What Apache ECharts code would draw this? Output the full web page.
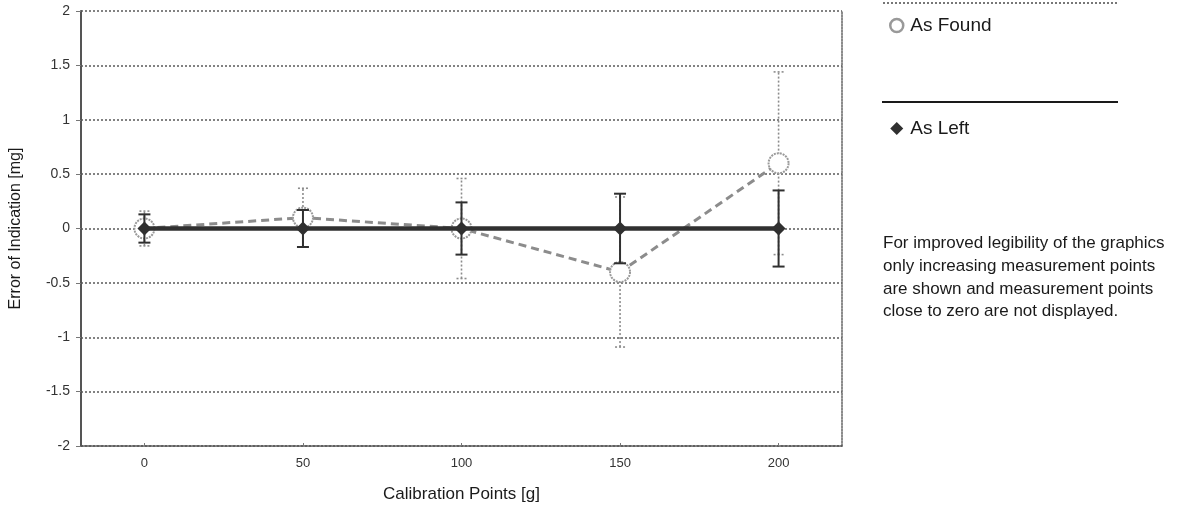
<!DOCTYPE html>
<html>
<head>
<meta charset="utf-8">
<script src="https://cdn.jsdelivr.net/npm/echarts@6/dist/echarts.min.js"></script>
<style>
html,body{margin:0;padding:0;background:#fff;}
#chart{width:1179px;height:508px;}
</style>
</head>
<body>
<div id="chart"></div>
<script>
const calibrationPoints = [0, 50, 100, 150, 200];
const asFound = [0, 0.1, 0, -0.4, 0.6];
const asFoundUncertainty = [0.16, 0.27, 0.46, 0.69, 0.84];
const asLeft = [0, 0, 0, 0, 0];
const asLeftUncertainty = [0.13, 0.17, 0.24, 0.32, 0.35];
const xTickValues = [0, 50, 100, 150, 200];
const noteLines = [
  'For improved legibility of the graphics',
  'only increasing measurement points',
  'are shown and measurement points',
  'close to zero are not displayed.'
];

const FONT = '"Liberation Sans", Arial, sans-serif';
const GRAY = '#8c8c8c';
const DARK = '#303030';

function pairs(xs, ys) { return xs.map((x, i) => [x, ys[i]]); }
function bars(xs, ys, us) { return xs.map((x, i) => [x, ys[i] - us[i], ys[i] + us[i]]); }

function errorBarRenderer(color, width, dash, cap) {
  return function (params, api) {
    const x = api.value(0);
    const lo = api.coord([x, api.value(1)]);
    const hi = api.coord([x, api.value(2)]);
    const style = { stroke: color, lineWidth: width, lineDash: dash, fill: null };
    return {
      type: 'group',
      children: [
        { type: 'line', shape: { x1: lo[0], y1: lo[1], x2: hi[0], y2: hi[1] }, style: style },
        { type: 'line', shape: { x1: lo[0] - cap, y1: lo[1], x2: lo[0] + cap, y2: lo[1] }, style: style },
        { type: 'line', shape: { x1: hi[0] - cap, y1: hi[1], x2: hi[0] + cap, y2: hi[1] }, style: style }
      ]
    };
  };
}

const chart = echarts.init(document.getElementById('chart'), null, { renderer: 'canvas' });

const graphics = [
  { type: 'line', shape: { x1: 883, y1: 3, x2: 1117, y2: 3 }, style: { stroke: '#777', lineWidth: 2, lineDash: [2, 2] } },
  { type: 'line', shape: { x1: 882, y1: 102, x2: 1118, y2: 102 }, style: { stroke: '#1a1a1a', lineWidth: 2 } }
];
noteLines.forEach((t, i) => {
  graphics.push({
    type: 'text', left: 883, top: 235 + i * 22.7,
    style: { text: t, fontFamily: FONT, fontSize: 17, fill: '#1a1a1a' }
  });
});

chart.setOption({
  animation: false,
  backgroundColor: '#ffffff',
  grid: { left: 81, right: 337, top: 11, bottom: 62, containLabel: false },
  legend: {
    orient: 'vertical',
    left: 884,
    top: 11,
    itemGap: 84,
    itemWidth: 13,
    itemHeight: 13,
    selectedMode: false,
    textStyle: { fontFamily: FONT, fontSize: 19, color: '#1a1a1a', padding: [3, 0, 0, 2] },
    data: [
      { name: 'As Found', icon: 'circle', itemStyle: { color: '#ffffff', borderColor: '#999999', borderWidth: 2.5 } },
      { name: 'As Left', icon: 'diamond', itemStyle: { color: DARK } }
    ]
  },
  xAxis: {
    type: 'value',
    min: -20,
    max: 220,
    name: 'Calibration Points [g]',
    nameLocation: 'middle',
    nameGap: 40,
    nameTextStyle: { fontFamily: FONT, fontSize: 17, color: '#1a1a1a' },
    axisLine: { show: true, onZero: false, lineStyle: { color: '#555', width: 1.5, type: [2, 1] } },
    axisTick: { show: true, customValues: xTickValues, length: 3, inside: true, lineStyle: { color: '#777' } },
    axisLabel: { customValues: xTickValues, fontFamily: FONT, fontSize: 13, color: '#333', margin: 11 },
    splitLine: { show: false }
  },
  yAxis: [{
    type: 'value',
    min: -2,
    max: 2,
    interval: 0.5,
    name: 'Error of Indication [mg]',
    nameLocation: 'middle',
    nameGap: 57,
    nameTextStyle: { fontFamily: FONT, fontSize: 16, color: '#1a1a1a' },
    axisLine: { show: true, onZero: false, lineStyle: { color: '#555', width: 2 } },
    axisTick: { show: true, length: 5, lineStyle: { color: '#777' } },
    axisLabel: { fontFamily: FONT, fontSize: 14, color: '#333', margin: 11 },
    splitLine: { show: true, lineStyle: { color: '#5a5a5a', width: 1.5, type: [2, 2] } }
  }, {
    type: 'value',
    min: -2,
    max: 2,
    interval: 0.5,
    position: 'right',
    axisLine: { show: true, onZero: false, lineStyle: { color: '#666', width: 1.5, type: [2, 1] } },
    axisTick: { show: false },
    axisLabel: { show: false },
    splitLine: { show: false }
  }],
  graphic: graphics,
  series: [
    {
      name: 'As Found error',
      type: 'custom',
      renderItem: errorBarRenderer(GRAY, 1.6, [2, 2], 5),
      data: bars(calibrationPoints, asFound, asFoundUncertainty),
      encode: { x: 0, y: [1, 2] },
      z: 1
    },
    {
      name: 'As Found',
      type: 'line',
      data: pairs(calibrationPoints, asFound),
      symbol: 'circle',
      symbolSize: 20,
      lineStyle: { color: GRAY, width: 3, type: [8, 5] },
      itemStyle: { color: '#ffffff', borderColor: '#9a9a9a', borderWidth: 2, borderType: [2, 1] },
      z: 2
    },
    {
      name: 'As Left error',
      type: 'custom',
      renderItem: errorBarRenderer(DARK, 2, null, 6),
      data: bars(calibrationPoints, asLeft, asLeftUncertainty),
      encode: { x: 0, y: [1, 2] },
      z: 3
    },
    {
      name: 'As Left',
      type: 'line',
      data: pairs(calibrationPoints, asLeft),
      symbol: 'diamond',
      symbolSize: 14,
      lineStyle: { color: DARK, width: 4.5 },
      itemStyle: { color: DARK },
      z: 4
    }
  ]
});
</script>
</body>
</html>
